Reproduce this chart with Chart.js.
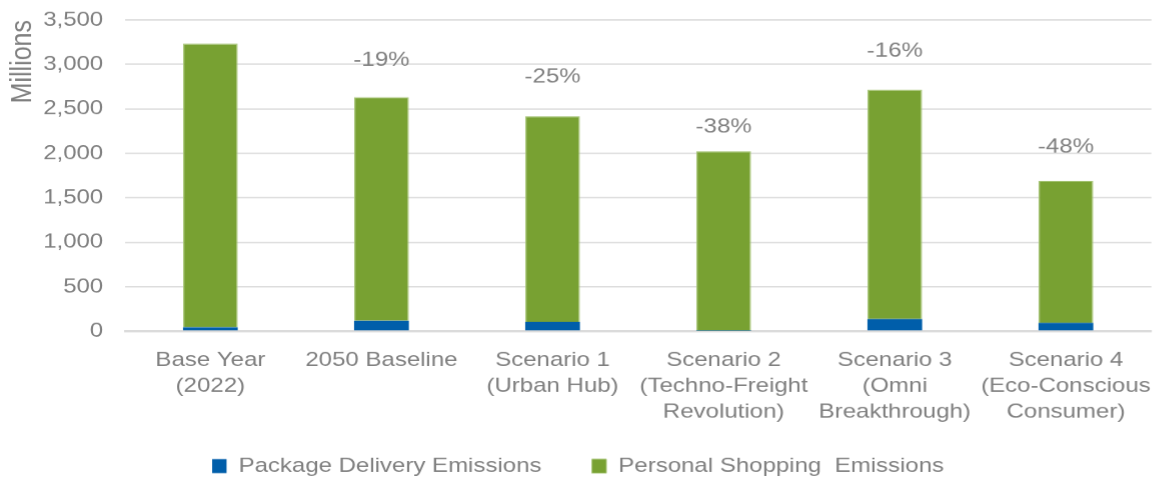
<!DOCTYPE html>
<html><head><meta charset="utf-8">
<script src="https://cdn.jsdelivr.net/npm/chart.js@4"></script>
<style>
html,body{margin:0;padding:0;background:#fff;overflow:hidden;}
#wrap{width:963px;height:481px;transform:scaleX(1.2);transform-origin:0 0;}
</style>
</head><body><div id="wrap"><canvas id="c"></canvas></div>
<script>
const categories = [["Base Year","(2022)"],["2050 Baseline"],["Scenario 1","(Urban Hub)"],["Scenario 2","(Techno-Freight","Revolution)"],["Scenario 3","(Omni","Breakthrough)"],["Scenario 4","(Eco-Conscious","Consumer)"]];
const packageDelivery = [45, 116, 105, 5, 135, 93];
const personalShopping = [3189, 2516, 2314, 2020, 2582, 1600];
const changeLabels = ["", "-19%", "-25%", "-38%", "-16%", "-48%"];
const changeLabelLevels = [null, 3050, 2860, 2300, 3150, 2075];
const yTicks = [0,500,1000,1500,2000,2500,3000,3500];

const FONT = "'Liberation Sans', Arial, sans-serif";
const GREY = "#7f7f7f";

const labelPlugin = {
  id: 'changeLabels',
  afterLayout(chart) {
    const xs = chart.scales.x;
    xs.bottom = xs.top + 100;
  },
  afterDatasetsDraw(chart) {
    const ctx = chart.ctx;
    const xs = chart.scales.x, ys = chart.scales.y;
    ctx.save();
    ctx.font = "20px " + FONT;
    ctx.fillStyle = GREY;
    ctx.textAlign = "center";
    ctx.textBaseline = "middle";
    changeLabels.forEach((t, i) => {
      if (!t) return;
      ctx.fillText(t, xs.getPixelForValue(i), ys.getPixelForValue(changeLabelLevels[i]));
    });
    ctx.restore();
  }
};

new Chart(document.getElementById('c'), {
  type: 'bar',
  data: {
    labels: categories,
    datasets: [
      {label: "Package Delivery Emissions", data: packageDelivery, backgroundColor: "#005eaa", borderWidth: 0},
      {label: "Personal Shopping  Emissions", data: personalShopping, backgroundColor: "#78a132", borderColor: "#a9c77a", borderWidth: {top:1,left:1,right:1,bottom:0}}
    ]
  },
  options: {
    responsive: true, maintainAspectRatio: false, animation: false,
    devicePixelRatio: 1.2,
    layout: {padding: {left: 4, right: 4, top: 0, bottom: 0}},
    datasets: {bar: {barPercentage: 0.32, categoryPercentage: 1}},
    plugins: {
      legend: {position: 'bottom', maxHeight: 67, labels: {font: {family: FONT, size: 20}, color: GREY, boxWidth: 12, boxHeight: 14, padding: 42}},
      tooltip: {enabled: false}
    },
    scales: {
      x: {stacked: true, grid: {display: false, drawTicks: false}, border: {color: "#d9d9d9", width: 2},
          afterFit: (s) => { s.height = 83; s.paddingLeft = 0; s.paddingRight = 0; },
          ticks: {font: {family: FONT, size: 20, lineHeight: 1.3}, color: GREY, padding: 16, maxRotation: 0, autoSkip: false}},
      y: {stacked: true, min: 0, max: 3500,
          afterBuildTicks: (s) => { s.ticks = yTicks.map(v => ({value: v})); },
          afterFit: (s) => { s.width = 100; s.paddingTop = 20; s.paddingBottom = 0; },
          grid: {color: "#dcdcdc", lineWidth: 1.5, drawTicks: false}, border: {display: false},
          ticks: {font: {family: FONT, size: 20}, color: GREY, padding: 18, callback: v => v.toLocaleString('en-US')},
          title: {display: true, text: "Millions", align: 'end', font: {family: FONT, size: 25}, color: GREY, padding: 0}}
    }
  },
  plugins: [labelPlugin]
});
</script></body></html>
